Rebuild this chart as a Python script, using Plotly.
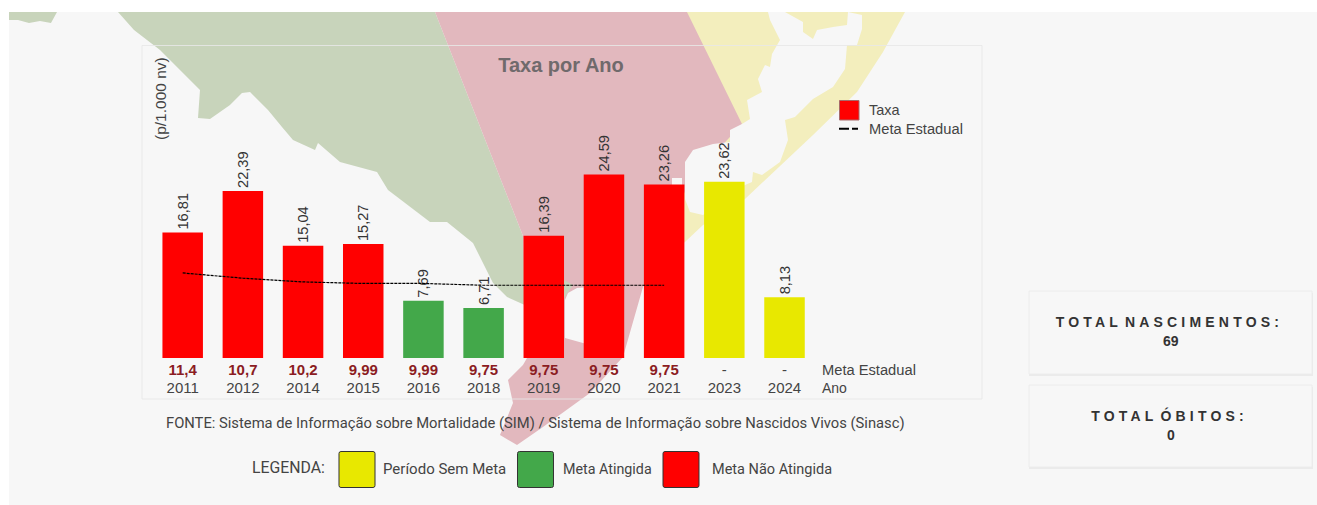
import plotly.graph_objects as go

years = ["2011", "2012", "2014", "2015", "2016", "2018", "2019", "2020", "2021", "2023", "2024"]
rates = [16.81, 22.39, 15.04, 15.27, 7.69, 6.71, 16.39, 24.59, 23.26, 23.62, 8.13]
metas = [11.4, 10.7, 10.2, 9.99, 9.99, 9.75, 9.75, 9.75, 9.75, None, None]
status = ["no", "no", "no", "no", "yes", "yes", "no", "no", "no", "none", "none"]
total_nascimentos = 69
total_obitos = 0

W, H = 1317, 505
STATUS_COLOR = {"no": "#ff0000", "yes": "#43a84a", "none": "#e8e800"}
GREEN, PINK, YELLOW = "#c8d4bb", "#e2b8be", "#f3eebd"
PANEL = "#f7f7f7"
FONT = "Liberation Sans, Arial, sans-serif"
ROBOTO = "Roboto, sans-serif"
TXT = "#444444"


def fx(x):
    return x / W


def fy(y):
    return 1 - y / H


def poly(points, fill):
    d = "M" + " L".join(f"{fx(x):.5f},{fy(y):.5f}" for x, y in points) + " Z"
    return dict(type="path", xref="paper", yref="paper", path=d, fillcolor=fill,
                line=dict(width=0), layer="below")


def rect(x0, y0, x1, y1, fill, line="rgba(0,0,0,0)", width=1):
    return dict(type="rect", xref="paper", yref="paper", x0=fx(x0), x1=fx(x1), y0=fy(y0), y1=fy(y1),
                fillcolor=fill, line=dict(color=line, width=width), layer="below")


def round_rect(x0, y0, x1, y1, r, fill, line):
    def p(x, y):
        return f"{fx(x):.5f},{fy(y):.5f}"
    d = (f"M{p(x0 + r, y0)} L{p(x1 - r, y0)} Q{p(x1, y0)} {p(x1, y0 + r)} L{p(x1, y1 - r)} "
         f"Q{p(x1, y1)} {p(x1 - r, y1)} L{p(x0 + r, y1)} Q{p(x0, y1)} {p(x0, y1 - r)} "
         f"L{p(x0, y0 + r)} Q{p(x0, y0)} {p(x0 + r, y0)} Z")
    return dict(type="path", xref="paper", yref="paper", path=d, fillcolor=fill,
                line=dict(color=line, width=1), layer="below")


def note(text, x, y, anchor="left", size=14, color=TXT, bold=False, angle=0, family=FONT):
    return dict(text=f"<b>{text}</b>" if bold else text, x=fx(x), y=fy(y), xref="paper", yref="paper",
                xanchor=anchor, yanchor="middle", showarrow=False, textangle=angle,
                font=dict(size=size, color=color, family=family))


# Decorative map behind the chart
green_map = [(118, 12), (435, 12), (523, 236), (527, 306), (507, 297), (493, 283), (473, 243), (447, 222),
             (430, 222), (388, 190), (377, 172), (340, 162), (318, 143), (315, 150), (293, 140), (282, 127),
             (268, 110), (250, 92), (242, 93), (230, 105), (210, 119), (198, 118), (200, 90), (180, 70),
             (160, 50), (147, 40), (134, 30)]
green_corner = [(9, 12), (57, 12), (51, 23), (40, 21), (29, 23), (18, 20), (9, 20)]
green_patch = [(564, 280), (573, 285), (564, 298)]
pink_map = [(435, 12), (687, 12), (742, 124), (690, 180), (643, 287), (623, 357), (590, 393), (543, 427),
            (517, 445), (500, 435), (513, 403), (508, 380), (523, 365), (527, 358), (523, 236)]
lake = [(565, 300), (568, 293), (577, 288), (590, 287), (590, 345), (583, 343), (565, 338)]
yellow_map = [(687, 12), (905, 12), (883, 52), (857, 92), (813, 135), (745, 199), (703, 225), (685, 242),
              (660, 260), (660, 150)]
lagoon = [(768, 12), (785, 12), (803, 22), (803, 32), (813, 39), (817, 30), (833, 27), (847, 25), (848, 12),
          (862, 15), (862, 29), (857, 45), (847, 45), (845, 69), (833, 87), (813, 99), (795, 117), (785, 120),
          (788, 140), (780, 162), (762, 175), (753, 172), (752, 182), (745, 185), (703, 215), (690, 212),
          (685, 199), (685, 162), (693, 150), (713, 144), (730, 142), (730, 130), (742, 124), (750, 119),
          (747, 100), (762, 92), (758, 79), (765, 65), (770, 67), (772, 54), (780, 40), (770, 20)]
notch = [(672, 178), (682, 178), (682, 185), (672, 185)]

shapes = [rect(9, 12, W, H, PANEL), poly(green_corner, GREEN), poly(yellow_map, YELLOW), poly(green_map, GREEN),
          poly(pink_map, PINK), poly(lagoon, PANEL), poly(notch, PANEL), poly(green_patch, GREEN), poly(lake, PANEL),
          rect(142, 45.5, 982, 399, "rgba(0,0,0,0)", "rgba(232,232,232,0.85)")]

# Cards with a soft lower edge
for y0, y1 in ((291, 374), (385, 467)):
    shapes.append(rect(1029, y0 + 2, 1313, y1 + 2, "#ebebeb"))
    shapes.append(rect(1029, y0, 1312, y1, PANEL, "#ececec"))
# Colour key
for x0, key in ((339, "none"), (517.5, "yes"), (663, "no")):
    shapes.append(round_rect(x0, 451.5, x0 + 36, 487.5, 2, STATUS_COLOR[key], "#333333"))
# Series legend
shapes.append(rect(839.5, 100.5, 859, 120, STATUS_COLOR["no"], "#a86a6a"))
shapes.append(dict(type="line", xref="paper", yref="paper", x0=fx(839), x1=fx(858), y0=fy(128.7), y1=fy(128.7),
                   line=dict(color="#000000", width=2, dash="10px,3px"), layer="below"))

annotations = [
    note("(p/1.000 nv)", 161, 99, "center", size=15.5, angle=-90),
    note("Taxa", 866.5, 110, size=14.5),
    note("Meta Estadual", 866.5, 128.5, size=14.7),
    note("Meta Estadual", 820, 370, size=14.7),
    note("Ano", 820, 388),
    note("FONTE: Sistema de Informação sobre Mortalidade (SIM) / Sistema de Informação sobre Nascidos Vivos (Sinasc)",
         535.5, 423, "center", size=14.75, family=ROBOTO),
    note("LEGENDA:", 250, 467, size=15.8, family=ROBOTO),
    note("Período Sem Meta", 381, 469, size=15, family=ROBOTO),
    note("Meta Atingida", 561, 469, size=14.3, family=ROBOTO),
    note("Meta Não Atingida", 710, 469, size=14.5, family=ROBOTO),
    note("TOTAL NASCIMENTOS:", 1169, 322, "center", 14, "#333333", True),
    note(str(total_nascimentos), 1171, 341, "center", 14, "#333333", True),
    note("TOTAL ÓBITOS:", 1169, 415, "center", 14, "#333333", True),
    note(str(total_obitos), 1171, 435, "center", 14, "#333333", True),
]


def meta_label(m):
    if m is None:
        return "<span style='font-size:15px'>-</span>"
    return f"<span style='color:#8b1c22;font-size:15px'><b>{str(m).replace('.', ',')}</b></span>"


ticktext = [f"{meta_label(m)}<br><span style='font-size:15px'>{y}</span>" for m, y in zip(metas, years)]

fig = go.Figure()
fig.add_trace(go.Bar(
    x=years, y=rates, name="Taxa", showlegend=False,
    marker=dict(color=[STATUS_COLOR[s] for s in status], line=dict(width=0)),
    text=[f"{r:.2f}".replace(".", ",") for r in rates],
    textposition="outside", textangle=-90, cliponaxis=False,
    textfont=dict(size=14.6, color="#333333", family=FONT),
))
fig.add_trace(go.Scatter(
    x=years, y=metas, name="Meta Estadual", mode="lines", showlegend=False,
    line=dict(color="#000000", width=1.2, dash="3px,1px"),
))

fig.update_layout(
    width=W, height=H, margin=dict(l=0, r=0, t=0, b=0),
    paper_bgcolor="#ffffff", plot_bgcolor="rgba(0,0,0,0)",
    font=dict(family=FONT, size=14, color=TXT),
    bargap=0.327, shapes=shapes, annotations=annotations, showlegend=False,
    title=dict(text="<b>Taxa por Ano</b>", x=fx(561), y=fy(65), xref="paper", yref="paper",
               xanchor="center", yanchor="middle", font=dict(size=20, color="#706a6c", family=FONT)),
    xaxis=dict(type="category", domain=[fx(152.6), fx(814.6)], anchor="y", tickmode="array",
               tickvals=years, ticktext=ticktext, ticks="", showline=False, showgrid=False, zeroline=False,
               tickangle=0, ticklabelstandoff=2, tickfont=dict(size=14, color=TXT, family=FONT)),
    yaxis=dict(domain=[fy(358), fy(59.6)], range=[0, 40], visible=False),
)

post = """
document.body.style.margin='0';
document.body.style.overflow='hidden';
document.querySelectorAll('.annotation-text').forEach(function(t){
  if(t.textContent.indexOf('TOTAL')===0){t.style.letterSpacing='4.2px';t.style.wordSpacing='-5px';}
});
"""
fig.write_html("out.html", post_script=post, config=dict(displayModeBar=False))
